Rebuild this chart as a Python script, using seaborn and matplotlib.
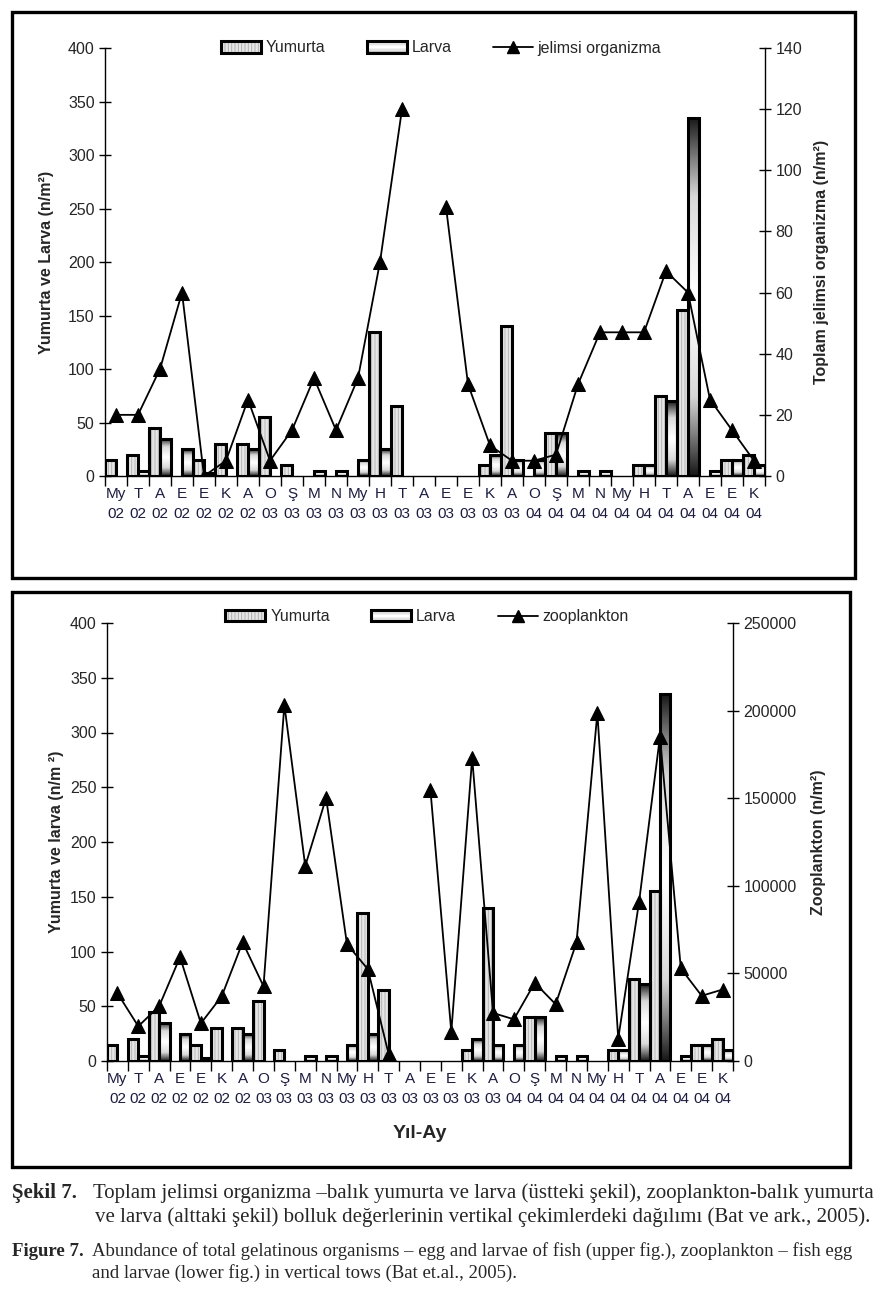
import numpy as np
import pandas as pd
import matplotlib
matplotlib.use("Agg")
import matplotlib.pyplot as plt
import seaborn as sns
from matplotlib.patches import Rectangle
from matplotlib.lines import Line2D
from matplotlib.legend_handler import HandlerBase
from matplotlib.colors import LinearSegmentedColormap
from matplotlib.ticker import FuncFormatter

# ---------------- data ----------------
months = ['My', 'T', 'A', 'E', 'E', 'K', 'A', 'O', 'Ş', 'M', 'N', 'My', 'H', 'T', 'A',
          'E', 'E', 'K', 'A', 'O', 'Ş', 'M', 'N', 'My', 'H', 'T', 'A', 'E', 'E', 'K']
years = ['02'] * 7 + ['03'] * 12 + ['04'] * 11
yumurta = [15, 20, 45, 0, 15, 30, 30, 55, 10, 0, 0, 0, 135, 65, 0,
           0, 0, 10, 140, 0, 40, 0, 0, 0, 10, 75, 155, 0, 15, 20]
larva = [0, 5, 35, 25, 3, 0, 25, 0, 0, 5, 5, 15, 25, 0, 0,
         0, 0, 20, 15, 15, 40, 5, 5, 0, 10, 70, 335, 5, 15, 10]
jelimsi = [20, 20, 35, 60, 0, 5, 25, 5, 15, 32, 15, 32, 70, 120, np.nan,
           88, 30, 10, 5, 5, 7, 30, 47, 47, 47, 67, 60, 25, 15, 5]
zooplankton = [38700, 19800, 31300, 59300, 21500, 37000, 67800, 42700, 203300, 111300,
               150200, 66700, 52400, 3800, np.nan, 154700, 16600, 173000, 27400, 23800,
               44600, 32400, 67700, 198700, 12800, 90900, 185200, 52800, 37200, 40800]
xticklabels = [f"{m}\n{y}" for m, y in zip(months, years)]

# ---------------- style ----------------
sns.set_theme(style="white")
plt.rcParams['font.family'] = ['Liberation Sans', 'DejaVu Sans']
plt.rcParams['hatch.linewidth'] = 0.7

W, H = 888, 1290
fig = plt.figure(figsize=(W / 100, H / 100), dpi=100)

grad_cmap = LinearSegmentedColormap.from_list("g", ["#ffffff", "#d8d8d8", "#1a1a1a"])


class HatchHandler(HandlerBase):
    def create_artists(self, legend, orig_handle, xdescent, ydescent, width, height, fontsize, trans):
        r1 = Rectangle((-xdescent, -ydescent), width, height, facecolor='#e6e6e6',
                       edgecolor='#b0b0b0', hatch='|||||', lw=0, transform=trans)
        r2 = Rectangle((-xdescent, -ydescent), width, height, fill=False,
                       edgecolor='black', lw=2.2, transform=trans)
        return [r1, r2]


class GradHandler(HandlerBase):
    def create_artists(self, legend, orig_handle, xdescent, ydescent, width, height, fontsize, trans):
        arts = []
        n = 7
        vals = np.abs(np.linspace(-1, 1, n))
        for i, v in enumerate(vals):
            c = grad_cmap(0.55 * v)
            arts.append(Rectangle((-xdescent, -ydescent + i * height / n), width, height / n,
                                  facecolor=c, edgecolor='none', lw=0, transform=trans))
        arts.append(Rectangle((-xdescent, -ydescent), width, height, fill=False,
                              edgecolor='black', lw=2.2, transform=trans))
        return arts


def px_rect(l, t, r, b):
    return [l / W, 1 - b / H, (r - l) / W, (b - t) / H]


def panel(rect, line_vals, line_label, rmax, rstep, left_label, right_label,
          llab_x, rlab_x, legend_xy):
    ax = fig.add_axes(rect)
    n = len(months)
    df = pd.DataFrame({
        'idx': list(range(n)) * 2,
        'val': yumurta + larva,
        'series': ['Yumurta'] * n + ['Larva'] * n,
    })
    sns.barplot(data=df, x='idx', y='val', hue='series', hue_order=['Yumurta', 'Larva'],
                width=1.0, gap=0, edgecolor='black', linewidth=2.2, legend=False,
                errorbar=None, saturation=1, palette=['#e6e6e6', '#ffffff'], ax=ax)
    # Yumurta: light gray with fine vertical stripes
    for p in ax.containers[0]:
        if p.get_height() <= 0:
            p.set_visible(False)
            continue
        x, y = p.get_xy()
        ax.add_patch(Rectangle((x, y), p.get_width(), p.get_height(), facecolor='#e6e6e6',
                               edgecolor='#b5b5b5', hatch='|||||', lw=0, zorder=0.9))
        p.set_facecolor('none')
        p.set_zorder(1.2)
    # Larva: gray-white-gray gradient
    g = np.abs(np.linspace(-1, 1, 128))[:, None] ** 1.2
    for p in ax.containers[1]:
        if p.get_height() <= 0:
            p.set_visible(False)
            continue
        x, y = p.get_xy()
        w, h = p.get_width(), p.get_height()
        ax.imshow(g, extent=[x, x + w, y, y + h], aspect='auto', cmap=grad_cmap,
                  vmin=0, vmax=1, interpolation='bilinear', zorder=0.9)
        p.set_facecolor('none')
        p.set_zorder(1.2)

    ax.set_xlim(-0.5, n - 0.5)
    ax.set_ylim(0, 400)
    ax.set_yticks(np.arange(0, 401, 50))
    ax.set_xticks(np.arange(-0.5, n, 1))
    ax.set_xticklabels([])
    ax.set_xticks(np.arange(n), minor=True)
    ax.set_xticklabels(xticklabels, minor=True, fontsize=11, linespacing=1.55)
    ax.tick_params(axis='x', which='major', direction='out', length=7, width=1,
                   color='black', bottom=True)
    ax.tick_params(axis='x', which='minor', length=0, pad=8, colors='#1c1c40')
    ax.tick_params(axis='y', direction='inout', length=9, width=1, labelsize=11.5,
                   left=True, color='black', pad=3)
    ax.set_xlabel('')
    ax.set_ylabel(left_label, fontweight='bold', fontsize=11.5)
    ax.yaxis.set_label_coords(llab_x, 0.5)
    for s in ['top', 'right']:
        ax.spines[s].set_visible(False)
    for s in ['left', 'bottom']:
        ax.spines[s].set_color('black')
        ax.spines[s].set_linewidth(1)
    ax.grid(False)

    ax2 = ax.twinx()
    ldf = pd.DataFrame({'idx': np.arange(n), 'val': line_vals,
                        'seg': [0 if i < 14 else 1 for i in range(n)]}).dropna()
    sns.lineplot(data=ldf, x='idx', y='val', units='seg', estimator=None, color='black',
                 linewidth=1.3, marker='^', markersize=10, markeredgecolor='black',
                 legend=False, ax=ax2)
    ax2.set_ylim(0, rmax)
    ax2.set_yticks(np.arange(0, rmax + 1, rstep))
    ax2.yaxis.set_major_formatter(FuncFormatter(lambda v, p: f"{int(v)}"))
    ax2.tick_params(axis='y', direction='inout', length=9, width=1, labelsize=11.5,
                    right=True, color='black', pad=3)
    ax2.set_ylabel(right_label, fontweight='bold', fontsize=11.5)
    ax2.yaxis.set_label_coords(rlab_x, 0.5)
    for s in ['top', 'left', 'bottom']:
        ax2.spines[s].set_visible(False)
    ax2.spines['right'].set_color('black')
    ax2.spines['right'].set_linewidth(1)
    ax2.grid(False)
    ax2.set_xlabel('')
    ax2.set_xlim(-0.5, n - 0.5)

    h1 = Rectangle((0, 0), 1, 1)
    h2 = Rectangle((0, 0), 1, 1)
    h3 = Line2D([], [], color='black', lw=1.3, marker='^', markersize=8)
    fig.legend([h1, h2, h3], ['Yumurta', 'Larva', line_label],
               handler_map={h1: HatchHandler(), h2: GradHandler()},
               loc='center', bbox_to_anchor=legend_xy, ncol=3, frameon=False,
               fontsize=11.5, handlelength=2.5, handleheight=0.7, handletextpad=0.3,
               columnspacing=2.6)
    return ax, ax2


panel(px_rect(105, 48, 765, 476), jelimsi, 'jelimsi organizma', 140, 20,
      'Yumurta ve Larva (n/m²)', 'Toplam jelimsi organizma (n/m²)',
      -0.078, 1.074, (441 / W, 1 - 48 / H))
panel(px_rect(107, 623, 733, 1061), zooplankton, 'zooplankton', 250000, 50000,
      'Yumurta ve larva (n/m ²)', 'Zooplankton (n/m²)',
      -0.069, 1.124, (427 / W, 1 - 617 / H))

fig.text(420 / W, 1 - 1133 / H, 'Yıl-Ay', fontweight='bold', fontsize=14,
         ha='center', va='center')

# panel frames
for l, t, r, b in [(12, 12, 855, 578), (12, 592, 850, 1167)]:
    x0, y0, w, h = px_rect(l, t, r, b)
    fig.add_artist(Rectangle((x0, y0), w, h, transform=fig.transFigure, fill=False,
                             edgecolor='black', lw=2.4))

# caption
serif = ['Liberation Serif', 'DejaVu Serif']
fig.text(12 / W, 1 - 1193 / H, 'Şekil 7.', family=serif, fontweight='bold',
         fontsize=15, va='center')
fig.text(93 / W, 1 - 1193 / H,
         'Toplam jelimsi organizma –balık yumurta ve larva (üstteki şekil), zooplankton-balık yumurta',
         family=serif, fontsize=15, va='center')
fig.text(95 / W, 1 - 1217 / H,
         've larva (alttaki şekil) bolluk değerlerinin vertikal çekimlerdeki dağılımı (Bat ve ark., 2005).',
         family=serif, fontsize=15, va='center')
fig.text(12 / W, 1 - 1251 / H, 'Figure 7.', family=serif, fontweight='bold',
         fontsize=13.5, va='center')
fig.text(92 / W, 1 - 1251 / H,
         'Abundance of total gelatinous organisms – egg and larvae of fish (upper fig.), zooplankton – fish egg',
         family=serif, fontsize=13.5, va='center')
fig.text(92 / W, 1 - 1273 / H,
         'and larvae (lower fig.) in vertical tows (Bat et.al., 2005).',
         family=serif, fontsize=13.5, va='center')

fig.savefig('out.png', dpi=100, facecolor='white')
